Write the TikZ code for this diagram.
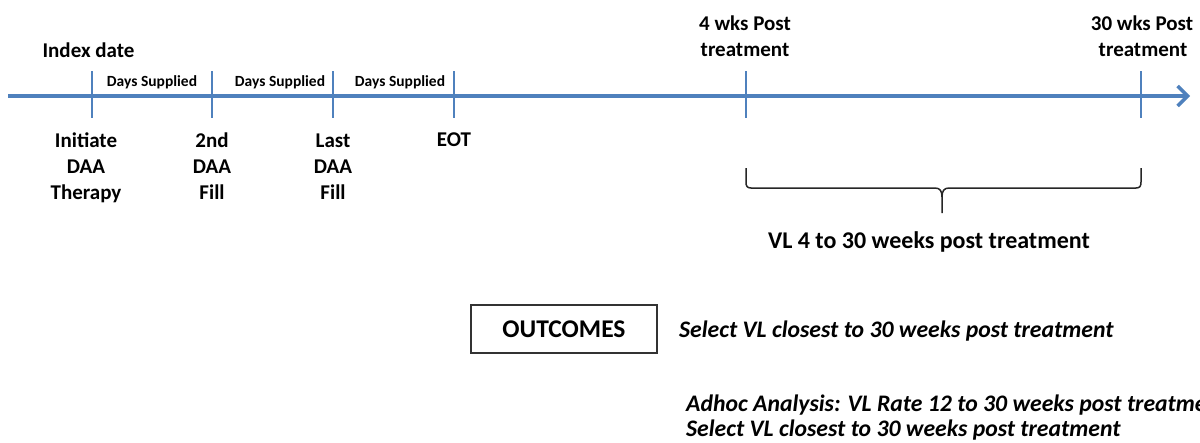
\documentclass[tikz,border=0pt]{standalone}
\usepackage{fontspec}
\setmainfont{Carlito}
\usetikzlibrary{arrows.meta}
\definecolor{tlblue}{RGB}{79,129,189}
\tikzset{
  lbl/.style={font=\fontsize{21}{25}\selectfont\bfseries, anchor=base, inner sep=0pt},
  days/.style={font=\fontsize{15.5}{18}\selectfont\bfseries, anchor=base, inner sep=0pt},
  big/.style={font=\fontsize{24}{28}\selectfont\bfseries, anchor=base, inner sep=0pt},
  outc/.style={font=\fontsize{23.7}{28}\selectfont\bfseries\itshape, anchor=base west, inner sep=0pt},
  tick/.style={draw=tlblue, line width=2.6pt},
  axis/.style={draw=tlblue, line width=4pt, -{Straight Barb[length=10pt,width=20pt,line width=3.5pt]}},
  brace/.style={draw=black!85, line width=1.5pt},
  boxnode/.style={draw=black!80, line width=1.5pt, minimum width=186pt, minimum height=48pt, inner sep=0pt, font=\fontsize{25.5}{30}\selectfont\bfseries}
}
\begin{document}
\begin{tikzpicture}[x=1pt,y=-1pt]
\clip (0,0) rectangle (1200,442);
\fill[white] (0,0) rectangle (1200,442);

% axis
\coordinate (start) at (8,96);
\coordinate (end) at (1190,96);
\draw[axis] (start) -- (end);

% ticks
\foreach \n/\x in {t1/92,t2/212,t3/333,t4/454,t5/746,t6/1141}{
  \coordinate (\n top) at (\x,71);
  \coordinate (\n bot) at (\x,118);
  \draw[tick] (\n top) -- (\n bot);
}

% top labels
\node[lbl] (index) at (88.5,57) {Index date};
\node[days] (ds1) at (152,86) {Days Supplied};
\node[days] (ds2) at (280,86) {Days Supplied};
\node[days] (ds3) at (400,86) {Days Supplied};
\node[lbl] (wk4a) at (745,30) {4 wks Post};
\node[lbl] (wk4b) at (745,56) {treatment};
\node[lbl] (wk30a) at (1142,30) {30 wks Post};
\node[lbl] (wk30b) at (1143,56) {treatment};

% bottom labels
\node[lbl] (ini1) at (86,147) {Initiate};
\node[lbl] (ini2) at (86,173) {DAA};
\node[lbl] (ini3) at (86,199) {Therapy};
\node[lbl] (snd1) at (212,147) {2nd};
\node[lbl] (snd2) at (212,173) {DAA};
\node[lbl] (snd3) at (212,199) {Fill};
\node[lbl] (lst1) at (333,147) {Last};
\node[lbl] (lst2) at (333,173) {DAA};
\node[lbl] (lst3) at (333,199) {Fill};
\node[lbl] (eot) at (454,146) {EOT};

% brace
\draw[brace] (746,168) -- (746,182) .. controls (746,186) and (747,188) .. (751,188)
  -- (935,188) .. controls (940,188) and (942,191) .. (942,197) -- (942,213);
\draw[brace] (1141,168) -- (1141,182) .. controls (1141,186) and (1140,188) .. (1136,188)
  -- (949,188) .. controls (944,188) and (942,191) .. (942,197);
\node[big] (vl) at (929,248) {VL 4 to 30 weeks post treatment};

% outcomes
\node[boxnode] (outbox) at (564,329) {OUTCOMES};
\node[outc] (sel1) at (679,337) {Select VL closest to 30 weeks post treatment};
\node[outc] (adhoc) at (686,411) {Adhoc Analysis: VL Rate 12 to 30 weeks post treatment};
\node[outc] (sel2) at (686,436) {Select VL closest to 30 weeks post treatment};
\end{tikzpicture}
\end{document}
